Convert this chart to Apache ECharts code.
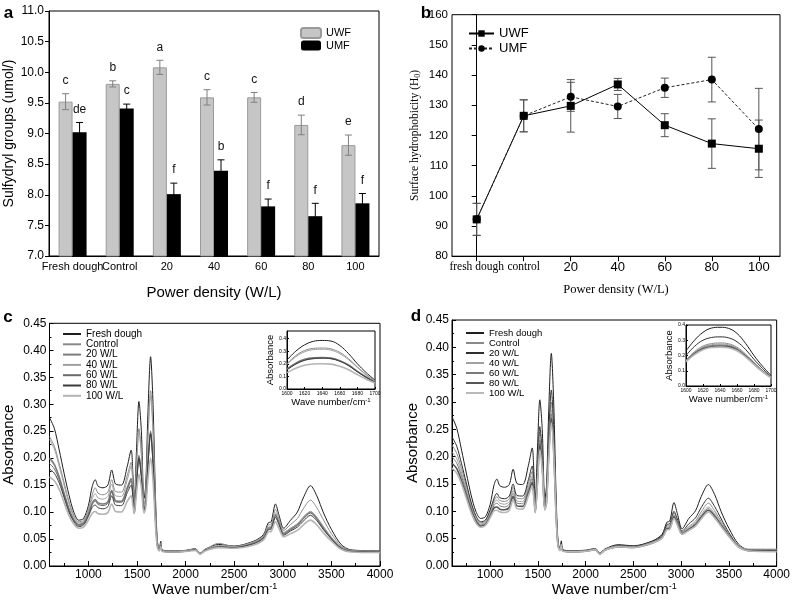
<!DOCTYPE html>
<html>
<head>
<meta charset="utf-8">
<script src="https://cdn.jsdelivr.net/npm/echarts@6/dist/echarts.min.js"></script>
<style>
  body { margin: 0; background: #fff; }
  .panel { position: absolute; left: 0; top: 0; width: 793px; height: 604px; }
</style>
</head>
<body>
<div id="chartA" class="panel"></div>
<div id="chartB" class="panel"></div>
<div id="chartC" class="panel"></div>
<div id="chartD" class="panel"></div>
<script>
// ---- panel a: sulfydryl groups (bars)
var categoriesA = ['Fresh dough', 'Control', '20', '40', '60', '80', '100'];
var uwfSulf = [9.52, 9.81, 10.08, 9.59, 9.59, 9.14, 8.81];
var uwfSulfErr = [0.13, 0.05, 0.115, 0.125, 0.08, 0.16, 0.165];
var umfSulf = [9.02, 9.41, 8.01, 8.39, 7.81, 7.65, 7.86];
var umfSulfErr = [0.16, 0.07, 0.18, 0.18, 0.12, 0.21, 0.16];
var uwfLetters = ['c', 'b', 'a', 'c', 'c', 'd', 'e'];
var umfLetters = ['de', 'c', 'f', 'b', 'f', 'f', 'f'];

// ---- panel b: surface hydrophobicity (lines)
var categoriesB = ['fresh dough', 'control', '20', '40', '60', '80', '100'];
var uwfHydro = [92.2, 126.5, 129.8, 136.9, 123.4, 117.3, 115.6];
var uwfHydroErr = [5.3, 5.3, 8.7, 2.0, 3.8, 8.2, 9.5];
var umfHydro = [92.2, 126.5, 132.8, 129.6, 135.8, 138.5, 122.1];
var umfHydroErr = [5.3, 5.3, 4.8, 4.0, 3.2, 7.4, 13.5];

// ---- panels c and d: FTIR spectra
var specNames = ['Fresh dough', 'Control', '20 W/L', '40 W/L', '60 W/L', '80 W/L', '100 W/L'];
var waveMajor = [1000, 1500, 2000, 2500, 3000, 3500, 4000];
var waveMinor = [750, 1250, 1750, 2250, 2750, 3250, 3750];
var waveNumbers = [600, 650, 700, 750, 800, 850, 900, 950, 1000, 1040,
  1070, 1100, 1150, 1200, 1240, 1280, 1340, 1400, 1440, 1458,
  1472, 1495, 1520, 1545, 1572, 1590, 1612, 1640, 1665, 1690,
  1710, 1730, 1745, 1760, 1850, 2000, 2100, 2150, 2200, 2340,
  2500, 2700, 2800, 2850, 2880, 2925, 2960, 3010, 3080, 3150,
  3210, 3285, 3350, 3420, 3500, 3600, 3700, 4000];

var cFresh = [0.275, 0.255, 0.215, 0.172, 0.132, 0.100, 0.085, 0.088, 0.112, 0.148,
  0.160, 0.148, 0.145, 0.150, 0.178, 0.152, 0.150, 0.185, 0.215, 0.170,
  0.118, 0.215, 0.305, 0.250, 0.125, 0.150, 0.280, 0.388, 0.300, 0.130,
  0.046, 0.033, 0.046, 0.030, 0.028, 0.029, 0.032, 0.024, 0.031, 0.040,
  0.037, 0.046, 0.058, 0.080, 0.082, 0.115, 0.095, 0.070, 0.085, 0.100,
  0.126, 0.149, 0.130, 0.098, 0.068, 0.040, 0.030, 0.028];
var cControl = [0.240, 0.222, 0.190, 0.155, 0.120, 0.094, 0.082, 0.085, 0.105, 0.132,
  0.145, 0.135, 0.132, 0.137, 0.160, 0.138, 0.137, 0.168, 0.192, 0.152,
  0.108, 0.185, 0.255, 0.210, 0.112, 0.132, 0.238, 0.325, 0.255, 0.110,
  0.042, 0.030, 0.042, 0.029, 0.027, 0.028, 0.031, 0.023, 0.030, 0.042,
  0.036, 0.045, 0.056, 0.076, 0.077, 0.105, 0.088, 0.066, 0.077, 0.088,
  0.106, 0.122, 0.108, 0.085, 0.060, 0.037, 0.029, 0.027];
var c20 = [0.200, 0.188, 0.165, 0.135, 0.106, 0.086, 0.077, 0.080, 0.097, 0.117,
  0.123, 0.117, 0.115, 0.119, 0.140, 0.121, 0.120, 0.145, 0.162, 0.135,
  0.100, 0.155, 0.205, 0.172, 0.105, 0.118, 0.190, 0.250, 0.195, 0.090,
  0.038, 0.029, 0.040, 0.028, 0.027, 0.028, 0.031, 0.023, 0.030, 0.036,
  0.035, 0.043, 0.053, 0.071, 0.072, 0.095, 0.082, 0.061, 0.069, 0.077,
  0.089, 0.100, 0.089, 0.071, 0.052, 0.034, 0.028, 0.027];
var c40 = [0.235, 0.217, 0.185, 0.150, 0.116, 0.091, 0.080, 0.083, 0.102, 0.125,
  0.134, 0.126, 0.124, 0.129, 0.152, 0.130, 0.129, 0.160, 0.185, 0.148,
  0.105, 0.180, 0.250, 0.205, 0.110, 0.130, 0.232, 0.315, 0.245, 0.106,
  0.041, 0.030, 0.041, 0.029, 0.027, 0.028, 0.031, 0.023, 0.030, 0.038,
  0.036, 0.044, 0.054, 0.072, 0.073, 0.098, 0.084, 0.062, 0.070, 0.078,
  0.090, 0.101, 0.090, 0.072, 0.053, 0.034, 0.028, 0.027];
var c60 = [0.190, 0.180, 0.160, 0.131, 0.103, 0.084, 0.075, 0.078, 0.095, 0.114,
  0.120, 0.114, 0.112, 0.116, 0.138, 0.119, 0.118, 0.142, 0.158, 0.132,
  0.099, 0.152, 0.200, 0.168, 0.103, 0.116, 0.187, 0.247, 0.192, 0.089,
  0.037, 0.029, 0.039, 0.028, 0.026, 0.027, 0.030, 0.022, 0.029, 0.035,
  0.034, 0.042, 0.052, 0.069, 0.070, 0.093, 0.080, 0.059, 0.067, 0.075,
  0.087, 0.098, 0.087, 0.069, 0.051, 0.033, 0.027, 0.026];
var c80 = [0.180, 0.172, 0.154, 0.127, 0.100, 0.082, 0.073, 0.076, 0.092, 0.109,
  0.113, 0.108, 0.106, 0.110, 0.130, 0.113, 0.112, 0.136, 0.150, 0.127,
  0.098, 0.150, 0.200, 0.166, 0.102, 0.114, 0.185, 0.245, 0.190, 0.088,
  0.037, 0.029, 0.039, 0.028, 0.026, 0.027, 0.030, 0.022, 0.029, 0.035,
  0.034, 0.041, 0.051, 0.067, 0.068, 0.090, 0.077, 0.057, 0.065, 0.072,
  0.083, 0.094, 0.084, 0.067, 0.050, 0.033, 0.027, 0.026];
var c100 = [0.165, 0.158, 0.142, 0.118, 0.094, 0.078, 0.070, 0.072, 0.085, 0.098,
  0.101, 0.097, 0.096, 0.099, 0.115, 0.101, 0.100, 0.120, 0.130, 0.112,
  0.097, 0.135, 0.170, 0.145, 0.098, 0.108, 0.160, 0.200, 0.158, 0.076,
  0.034, 0.028, 0.037, 0.027, 0.026, 0.027, 0.029, 0.022, 0.028, 0.034,
  0.033, 0.039, 0.048, 0.063, 0.064, 0.082, 0.070, 0.054, 0.060, 0.066,
  0.076, 0.085, 0.076, 0.061, 0.046, 0.031, 0.026, 0.025];

var dFresh = [0.273, 0.252, 0.212, 0.170, 0.130, 0.100, 0.087, 0.090, 0.113, 0.148,
  0.159, 0.147, 0.144, 0.149, 0.177, 0.151, 0.149, 0.184, 0.216, 0.170,
  0.118, 0.214, 0.304, 0.250, 0.122, 0.148, 0.278, 0.389, 0.300, 0.130,
  0.046, 0.032, 0.046, 0.030, 0.028, 0.029, 0.032, 0.024, 0.031, 0.039,
  0.037, 0.046, 0.058, 0.080, 0.082, 0.116, 0.096, 0.068, 0.087, 0.101,
  0.127, 0.149, 0.131, 0.099, 0.069, 0.040, 0.030, 0.028];
var dControl = [0.221, 0.206, 0.178, 0.146, 0.113, 0.090, 0.079, 0.082, 0.100, 0.119,
  0.127, 0.120, 0.118, 0.123, 0.144, 0.124, 0.123, 0.151, 0.173, 0.140,
  0.104, 0.172, 0.245, 0.200, 0.110, 0.127, 0.225, 0.300, 0.235, 0.103,
  0.040, 0.030, 0.041, 0.029, 0.027, 0.028, 0.031, 0.023, 0.030, 0.036,
  0.036, 0.044, 0.055, 0.073, 0.074, 0.097, 0.083, 0.062, 0.072, 0.082,
  0.099, 0.115, 0.101, 0.081, 0.058, 0.036, 0.029, 0.027];
var d20 = [0.236, 0.219, 0.187, 0.152, 0.117, 0.092, 0.081, 0.084, 0.103, 0.124,
  0.133, 0.125, 0.123, 0.128, 0.150, 0.129, 0.128, 0.158, 0.183, 0.147,
  0.107, 0.180, 0.255, 0.208, 0.112, 0.130, 0.235, 0.322, 0.250, 0.108,
  0.041, 0.030, 0.042, 0.029, 0.027, 0.028, 0.031, 0.023, 0.030, 0.037,
  0.036, 0.045, 0.056, 0.076, 0.077, 0.100, 0.086, 0.064, 0.077, 0.088,
  0.107, 0.124, 0.109, 0.086, 0.061, 0.037, 0.029, 0.027];
var d40 = [0.209, 0.196, 0.170, 0.140, 0.109, 0.087, 0.077, 0.080, 0.097, 0.115,
  0.121, 0.115, 0.113, 0.118, 0.138, 0.119, 0.118, 0.145, 0.165, 0.135,
  0.102, 0.165, 0.237, 0.194, 0.108, 0.124, 0.215, 0.285, 0.223, 0.099,
  0.039, 0.029, 0.040, 0.028, 0.027, 0.028, 0.031, 0.023, 0.030, 0.036,
  0.035, 0.044, 0.054, 0.071, 0.072, 0.094, 0.081, 0.061, 0.070, 0.079,
  0.094, 0.108, 0.096, 0.078, 0.057, 0.037, 0.031, 0.031];
var d60 = [0.200, 0.188, 0.164, 0.135, 0.106, 0.085, 0.075, 0.078, 0.094, 0.111,
  0.115, 0.110, 0.108, 0.113, 0.133, 0.115, 0.114, 0.140, 0.160, 0.131,
  0.100, 0.160, 0.230, 0.189, 0.106, 0.121, 0.208, 0.278, 0.218, 0.097,
  0.038, 0.029, 0.040, 0.028, 0.026, 0.027, 0.030, 0.022, 0.029, 0.035,
  0.035, 0.043, 0.053, 0.069, 0.070, 0.092, 0.079, 0.060, 0.068, 0.077,
  0.091, 0.105, 0.093, 0.076, 0.056, 0.036, 0.030, 0.030];
var d80 = [0.188, 0.178, 0.156, 0.129, 0.102, 0.082, 0.073, 0.076, 0.091, 0.106,
  0.108, 0.104, 0.103, 0.107, 0.127, 0.110, 0.109, 0.134, 0.153, 0.127,
  0.099, 0.155, 0.222, 0.183, 0.104, 0.118, 0.200, 0.270, 0.212, 0.095,
  0.038, 0.029, 0.039, 0.028, 0.026, 0.027, 0.030, 0.022, 0.029, 0.035,
  0.034, 0.042, 0.052, 0.068, 0.069, 0.090, 0.077, 0.059, 0.067, 0.075,
  0.089, 0.102, 0.091, 0.074, 0.055, 0.035, 0.028, 0.027];
var d100 = [0.179, 0.170, 0.150, 0.124, 0.098, 0.079, 0.071, 0.074, 0.088, 0.101,
  0.102, 0.099, 0.098, 0.102, 0.121, 0.105, 0.104, 0.128, 0.146, 0.122,
  0.097, 0.150, 0.212, 0.176, 0.102, 0.115, 0.192, 0.262, 0.206, 0.092,
  0.037, 0.028, 0.039, 0.027, 0.026, 0.027, 0.030, 0.022, 0.029, 0.035,
  0.034, 0.042, 0.051, 0.066, 0.067, 0.087, 0.075, 0.058, 0.065, 0.073,
  0.086, 0.099, 0.088, 0.072, 0.054, 0.035, 0.028, 0.026];

// insets: amide I region
var insetWave = [1600, 1610, 1620, 1630, 1640, 1650, 1660, 1670, 1680, 1690, 1700];
var insetTicksY = [0, 0.1, 0.2, 0.3, 0.4];
var icFresh = [0.23, 0.30, 0.35, 0.378, 0.385, 0.380, 0.345, 0.28, 0.20, 0.13, 0.07];
var icControl = [0.20, 0.265, 0.305, 0.322, 0.325, 0.318, 0.29, 0.24, 0.175, 0.115, 0.062];
var ic20 = [0.16, 0.205, 0.235, 0.248, 0.25, 0.245, 0.225, 0.19, 0.14, 0.095, 0.055];
var ic40 = [0.195, 0.255, 0.295, 0.312, 0.315, 0.308, 0.28, 0.232, 0.17, 0.11, 0.06];
var ic60 = [0.155, 0.20, 0.23, 0.244, 0.247, 0.242, 0.222, 0.187, 0.138, 0.093, 0.054];
var ic80 = [0.152, 0.197, 0.227, 0.24, 0.244, 0.24, 0.22, 0.185, 0.136, 0.092, 0.053];
var ic100 = [0.13, 0.165, 0.188, 0.198, 0.20, 0.197, 0.18, 0.152, 0.114, 0.078, 0.047];

var idFresh = [0.23, 0.30, 0.352, 0.38, 0.385, 0.378, 0.345, 0.28, 0.20, 0.13, 0.07];
var idControl = [0.17, 0.225, 0.262, 0.278, 0.282, 0.277, 0.254, 0.21, 0.155, 0.102, 0.058];
var id20 = [0.20, 0.26, 0.30, 0.318, 0.322, 0.316, 0.29, 0.24, 0.175, 0.115, 0.062];
var id40 = [0.168, 0.22, 0.255, 0.271, 0.275, 0.27, 0.248, 0.205, 0.151, 0.10, 0.057];
var id60 = [0.166, 0.216, 0.25, 0.265, 0.268, 0.264, 0.243, 0.20, 0.148, 0.098, 0.056];
var id80 = [0.163, 0.211, 0.244, 0.258, 0.262, 0.258, 0.237, 0.196, 0.145, 0.096, 0.055];
var id100 = [0.16, 0.206, 0.238, 0.252, 0.255, 0.251, 0.231, 0.191, 0.142, 0.094, 0.054];

var sans = '"Liberation Sans", Arial, sans-serif';
var serif = '"Liberation Serif", "Times New Roman", serif';
var black = '#000';

function pairs(xs, ys) {
  return xs.map(function (x, i) { return [x, ys[i]]; });
}

function errData(means, errs) {
  return means.map(function (m, i) { return [i, m - errs[i], m + errs[i]]; });
}

function plainNumber(v) {
  return String(v);
}

// error bar (+ significance letter) for the grouped bars of panel a
function barErrors(offset, color, letters) {
  return function (params, api) {
    var i = api.value(0);
    var hi = api.coord([i, api.value(2)]);
    var lo = api.coord([i, api.value(1)]);
    var x = hi[0] + offset;
    var st = { stroke: color, lineWidth: 1 };
    return {
      type: 'group',
      children: [
        { type: 'line', shape: { x1: x, y1: hi[1], x2: x, y2: lo[1] }, style: st },
        { type: 'line', shape: { x1: x - 3.5, y1: hi[1], x2: x + 3.5, y2: hi[1] }, style: st },
        { type: 'line', shape: { x1: x - 3.5, y1: lo[1], x2: x + 3.5, y2: lo[1] }, style: st },
        { type: 'text', x: x, y: hi[1] - 13, style: { text: letters[params.dataIndex], fill: '#111', font: '12px ' + sans, align: 'center', verticalAlign: 'middle' } }
      ]
    };
  };
}

function lineErrors(color) {
  return function (params, api) {
    var i = api.value(0);
    var hi = api.coord([i, api.value(2)]);
    var lo = api.coord([i, api.value(1)]);
    var x = hi[0];
    var st = { stroke: color, lineWidth: 1 };
    return {
      type: 'group',
      children: [
        { type: 'line', shape: { x1: x, y1: hi[1], x2: x, y2: lo[1] }, style: st },
        { type: 'line', shape: { x1: x - 4, y1: hi[1], x2: x + 4, y2: hi[1] }, style: st },
        { type: 'line', shape: { x1: x - 4, y1: lo[1], x2: x + 4, y2: lo[1] }, style: st }
      ]
    };
  };
}

// ---------------- panel a
var chartA = echarts.init(document.getElementById('chartA'));
chartA.setOption({
  animation: false,
  textStyle: { fontFamily: sans },
  grid: { left: 49, top: 11, width: 330, height: 245, show: true, borderColor: black, borderWidth: 1 },
  legend: {
    left: 300, top: 27, orient: 'vertical', padding: 0,
    itemWidth: 20, itemHeight: 10, itemGap: 1,
    textStyle: { fontFamily: sans, fontSize: 11, color: black },
    data: ['UWF', 'UMF']
  },
  xAxis: {
    type: 'category', data: categoriesA,
    axisLine: { lineStyle: { color: black } },
    axisTick: { alignWithLabel: true, length: 4, lineStyle: { color: black } },
    axisLabel: { interval: 0, fontSize: 11, color: black, margin: 5, fontFamily: sans },
    name: 'Power density (W/L)', nameLocation: 'middle', nameGap: 29,
    nameTextStyle: { fontSize: 15, color: black, fontFamily: sans }
  },
  yAxis: {
    type: 'value', min: 7, max: 11, interval: 0.5,
    axisLine: { show: true, lineStyle: { color: black } },
    axisTick: { show: true, length: 4, lineStyle: { color: black } },
    axisLabel: { fontSize: 12, color: black, margin: 5, fontFamily: sans, formatter: function (v) { return v.toFixed(1); } },
    splitLine: { show: false },
    name: 'Sulfydryl groups (umol/)', nameLocation: 'middle', nameGap: 33,
    nameTextStyle: { fontSize: 14, color: black, fontFamily: sans }
  },
  series: [
    { name: 'UWF', type: 'bar', data: uwfSulf, barWidth: 14, barGap: '0%',
      itemStyle: { color: '#c6c6c6', borderColor: '#9a9a9a', borderWidth: 1 } },
    { name: 'UMF', type: 'bar', data: umfSulf, barWidth: 14,
      itemStyle: { color: '#000' } },
    { type: 'custom', data: errData(uwfSulf, uwfSulfErr), encode: { x: 0, y: [1, 2] },
      renderItem: barErrors(-7, '#808080', uwfLetters), z: 5 },
    { type: 'custom', data: errData(umfSulf, umfSulfErr), encode: { x: 0, y: [1, 2] },
      renderItem: barErrors(7, '#000', umfLetters), z: 5 }
  ],
  graphic: [
    { type: 'text', x: 8.5, y: 13, style: { text: 'a', font: 'bold 17px ' + sans, fill: black, align: 'center', verticalAlign: 'middle' } },
    { type: 'text', x: 426, y: 13, style: { text: 'b', font: 'bold 17px ' + sans, fill: black, align: 'center', verticalAlign: 'middle' } },
    { type: 'text', x: 8, y: 317, style: { text: 'c', font: 'bold 17px ' + sans, fill: black, align: 'center', verticalAlign: 'middle' } },
    { type: 'text', x: 416, y: 316, style: { text: 'd', font: 'bold 17px ' + sans, fill: black, align: 'center', verticalAlign: 'middle' } }
  ]
});

// ---------------- panel b
var catIndex = categoriesB.map(function (c, i) { return i; });
var chartB = echarts.init(document.getElementById('chartB'));
chartB.setOption({
  animation: false,
  grid: { left: 452, top: 14.7, width: 328, height: 241.5, show: true, borderColor: black, borderWidth: 1 },
  legend: {
    left: 468, top: 26, orient: 'vertical', padding: 0,
    itemWidth: 25, itemHeight: 8, itemGap: 0,
    textStyle: { fontFamily: sans, fontSize: 13, color: black, lineHeight: 15 },
    data: ['UWF', 'UMF']
  },
  xAxis: {
    type: 'value', min: -0.525, max: 6.45,
    axisLine: { lineStyle: { color: black } },
    axisTick: { length: 5, customValues: catIndex, lineStyle: { color: black } },
    axisLabel: {
      customValues: catIndex, margin: 5, color: black,
      formatter: function (v) {
        var i = Math.round(v);
        return i < 2 ? '{s|' + categoriesB[i] + '}' : '{n|' + categoriesB[i] + '}';
      },
      rich: {
        s: { fontFamily: serif, fontSize: 11.5, color: black },
        n: { fontFamily: sans, fontSize: 13, color: black }
      }
    },
    splitLine: { show: false },
    name: 'Power density (W/L)', nameLocation: 'middle', nameGap: 27,
    nameTextStyle: { fontFamily: serif, fontSize: 12.5, color: black }
  },
  yAxis: {
    type: 'value', min: 80, max: 160, interval: 10,
    axisLine: { show: true, lineStyle: { color: black } },
    axisTick: { show: true, length: 5, lineStyle: { color: black } },
    axisLabel: { fontFamily: sans, fontSize: 11.5, color: black, margin: 4 },
    splitLine: { show: false },
    name: 'Surface hydrophobicity (H{sub|0})', nameLocation: 'middle', nameGap: 30,
    nameTextStyle: { fontFamily: serif, fontSize: 11.5, color: black,
      rich: { sub: { fontFamily: serif, fontSize: 8, color: black, verticalAlign: 'bottom', padding: [6, 0, 0, 0] } } }
  },
  series: [
    { type: 'custom', data: errData(uwfHydro, uwfHydroErr), encode: { x: 0, y: [1, 2] },
      renderItem: lineErrors('#555'), z: 1 },
    { type: 'custom', data: errData(umfHydro, umfHydroErr), encode: { x: 0, y: [1, 2] },
      renderItem: lineErrors('#555'), z: 1 },
    { name: 'UWF', type: 'line', data: pairs(catIndex, uwfHydro), symbol: 'rect', symbolSize: 8,
      itemStyle: { color: '#000' }, lineStyle: { color: '#000', width: 1 }, z: 3 },
    { name: 'UMF', type: 'line', data: pairs(catIndex, umfHydro), symbol: 'circle', symbolSize: 8,
      itemStyle: { color: '#000' }, lineStyle: { color: '#222', width: 1, type: [3, 2] }, z: 4 }
  ]
});

// ---------------- panels c and d
function spectraOption(box, inset, spectra, insetSpectra, colors, widths, legendPos, fonts) {
  var series = [];
  spectra.forEach(function (ys, i) {
    series.push({ name: specNames[i], type: 'line', xAxisIndex: 0, yAxisIndex: 0,
      data: pairs(waveNumbers, ys), symbol: 'none', smooth: 0.3,
      lineStyle: { color: colors[i], width: widths[i] }, itemStyle: { color: colors[i] } });
  });
  insetSpectra.forEach(function (ys, i) {
    series.push({ name: specNames[i], type: 'line', xAxisIndex: 2, yAxisIndex: 1,
      data: pairs(insetWave, ys), symbol: 'none', smooth: 0.4,
      lineStyle: { color: colors[i], width: widths[i] }, itemStyle: { color: colors[i] } });
  });
  var supRich = { sup: { fontFamily: sans, fontSize: 9, color: black, verticalAlign: 'top' } };
  var supRichSmall = { sup: { fontFamily: sans, fontSize: 6, color: black, verticalAlign: 'top' } };
  return {
    animation: false,
    grid: [
      { left: box[0], top: box[1], width: box[2], height: box[3], show: true, borderColor: black, borderWidth: 1 },
      { left: inset[0], top: inset[1], width: inset[2], height: inset[3], show: true, borderColor: black, borderWidth: 1, backgroundColor: '#fff' }
    ],
    legend: {
      left: legendPos[0], top: legendPos[1], orient: 'vertical', padding: 0,
      itemWidth: 18, itemHeight: 2, itemGap: fonts.legendGap,
      itemStyle: { opacity: 0 },
      textStyle: { fontFamily: sans, fontSize: fonts.legend, lineHeight: 10, color: black },
      data: specNames
    },
    xAxis: [
      { gridIndex: 0, type: 'value', min: 600, max: 4000,
        axisLine: { lineStyle: { color: black } },
        axisTick: { inside: true, length: 5, customValues: waveMajor, lineStyle: { color: black } },
        axisLabel: { customValues: waveMajor, fontFamily: sans, fontSize: 12, color: black, margin: 3, formatter: plainNumber },
        splitLine: { show: false },
        name: 'Wave number/cm{sup|-1}', nameLocation: 'middle', nameGap: fonts.xNameGap,
        nameTextStyle: { fontFamily: sans, fontSize: 15, color: black, rich: supRich } },
      { gridIndex: 0, type: 'value', min: 600, max: 4000, position: 'bottom',
        axisLine: { show: false },
        axisTick: { inside: true, length: 3, customValues: waveMinor, lineStyle: { color: black } },
        axisLabel: { show: false }, splitLine: { show: false } },
      { gridIndex: 1, type: 'value', min: 1600, max: 1700, interval: 20,
        axisLine: { lineStyle: { color: black } },
        axisTick: { inside: true, length: 2, lineStyle: { color: black } },
        axisLabel: { fontFamily: sans, fontSize: 5, color: black, margin: 2, formatter: plainNumber },
        splitLine: { show: false },
        name: 'Wave number/cm{sup|-1}', nameLocation: 'middle', nameGap: 8,
        nameTextStyle: { fontFamily: sans, fontSize: 9.5, color: black, rich: supRichSmall } }
    ],
    yAxis: [
      { gridIndex: 0, type: 'value', min: 0, max: 0.45, interval: 0.05,
        axisLine: { show: true, lineStyle: { color: black } },
        axisTick: { show: true, inside: true, length: 4, lineStyle: { color: black } },
        minorTick: { show: true, splitNumber: 2, length: 2, lineStyle: { color: black } },
        axisLabel: { fontFamily: sans, fontSize: 12, color: black, margin: 3, formatter: function (v) { return v.toFixed(2); } },
        splitLine: { show: false },
        name: 'Absorbance', nameLocation: 'middle', nameGap: fonts.yNameGap,
        nameTextStyle: { fontFamily: sans, fontSize: 15, color: black } },
      { gridIndex: 1, type: 'value', min: 0, max: inset[4],
        axisLine: { show: true, lineStyle: { color: black } },
        axisTick: { show: true, inside: true, length: 2, customValues: insetTicksY, lineStyle: { color: black } },
        axisLabel: { customValues: insetTicksY, fontFamily: sans, fontSize: 5, color: black, margin: 1,
          formatter: function (v) { return v.toFixed(1); } },
        splitLine: { show: false },
        name: 'Absorbance', nameLocation: 'middle', nameGap: 9,
        nameTextStyle: { fontFamily: sans, fontSize: 9.5, color: black } }
    ],
    series: series
  };
}

var chartC = echarts.init(document.getElementById('chartC'));
chartC.setOption(spectraOption(
  [49.5, 323.3, 330.5, 242.7],
  [287, 331, 88, 58, 0.46],
  [cFresh, cControl, c20, c40, c60, c80, c100],
  [icFresh, icControl, ic20, ic40, ic60, ic80, ic100],
  ['#1e1e1e', '#8a8a8a', '#7c7c7c', '#a0a0a0', '#6a6a6a', '#3a3a3a', '#b4b4b4'],
  [1, 1, 1.6, 1, 1, 1, 1.6],
  [62, 329],
  { legend: 10, legendGap: 0.3, xNameGap: 15, yNameGap: 33 }
));

var chartD = echarts.init(document.getElementById('chartD'));
chartD.setOption(spectraOption(
  [452, 320, 327, 246],
  [686, 325, 85, 61, 0.4],
  [dFresh, dControl, d20, d40, d60, d80, d100],
  [idFresh, idControl, id20, id40, id60, id80, id100],
  ['#1e1e1e', '#8a8a8a', '#2e2e2e', '#a0a0a0', '#7a7a7a', '#555555', '#b8b8b8'],
  [1, 1, 1, 1, 1, 1.6, 1.6],
  [465, 328],
  { legend: 9.5, legendGap: 0, xNameGap: 14, yNameGap: 32 }
));
</script>
</body>
</html>
